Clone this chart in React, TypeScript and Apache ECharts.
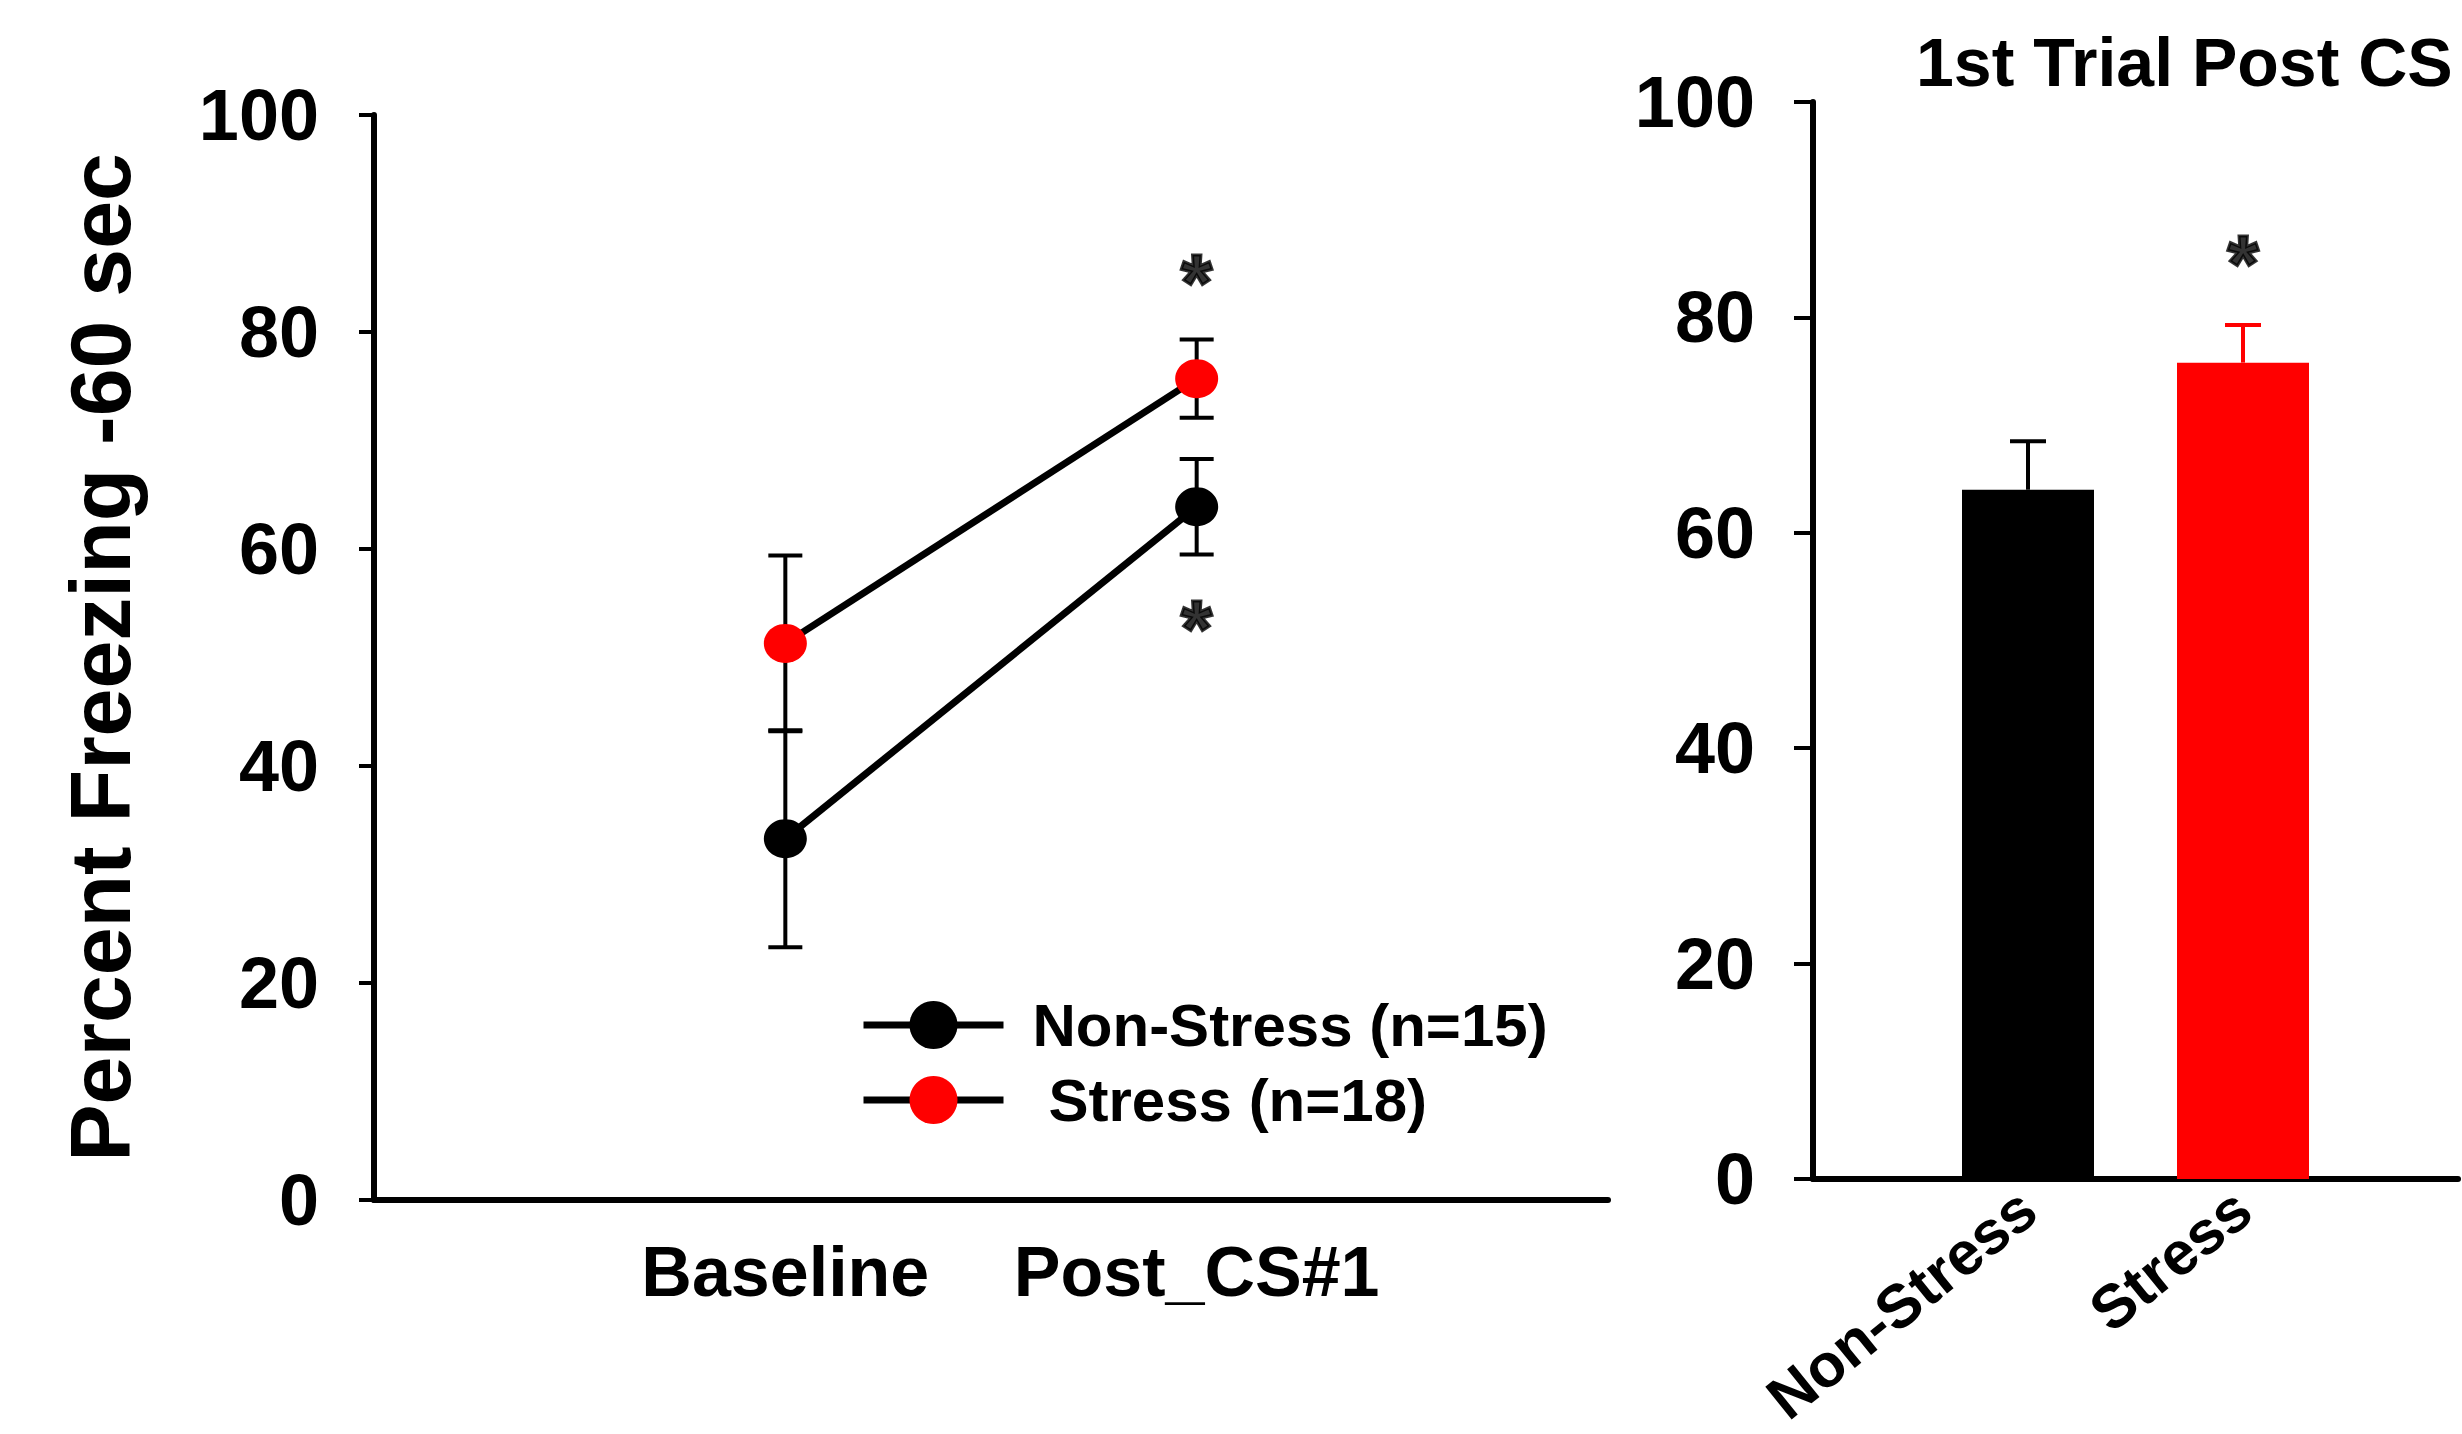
import React, { useEffect, useRef } from "react";
import * as echarts from "echarts";

// ---- data ----
const timepoints = ["Baseline", "Post_CS#1"];
const nonStressName = "Non-Stress (n=15)";
const stressName = "Stress (n=18)";
const nonStressMean = [33.3, 63.9];
const nonStressSem = [10.0, 4.4];
const stressMean = [51.3, 75.7];
const stressSem = [8.1, 3.6];
const leftStarValues = [85.7, 53.8]; // "*" annotations at Post_CS#1

const groups = ["Non-Stress", "Stress"];
const postMean = [64.0, 75.8];
const postSem = [4.5, 3.5];
const groupColors = ["#000000", "#FF0000"];
const rightStarValues = [86.1]; // "*" above Stress bar
const rightTitle = "1st Trial Post CS";
const yAxisTitle = "Percent Freezing -60 sec";

const FONT = "Liberation Sans, Arial, sans-serif";

function errorBar(color: string, halfCap: number, capLow: boolean, lw: number) {
  return (params: any, api: any) => {
    const x = api.value(0);
    const lo = api.value(1);
    const hi = api.value(2);
    const a = api.coord([x, lo]);
    const b = api.coord([x, hi]);
    const style = { stroke: color, lineWidth: lw };
    const children: any[] = [
      { type: "line", shape: { x1: b[0], y1: b[1], x2: a[0], y2: a[1] }, style },
      { type: "line", shape: { x1: b[0] - halfCap, y1: b[1], x2: b[0] + halfCap, y2: b[1] }, style },
    ];
    if (capLow) {
      children.push({ type: "line", shape: { x1: a[0] - halfCap, y1: a[1], x2: a[0] + halfCap, y2: a[1] }, style });
    }
    return { type: "group", children };
  };
}

const starLabel = {
  show: true,
  position: "inside",
  formatter: "*",
  fontSize: 80,
  fontWeight: "bold",
  fontFamily: FONT,
  color: "#000",
  textBorderColor: "#000",
  textBorderWidth: 3,
  offset: [0, 12],
};

export default function App() {
  const ref = useRef<HTMLDivElement>(null);
  useEffect(() => {
    if (!ref.current) return;
    const chart = echarts.init(ref.current, null, { renderer: "svg" });
    const leftCats = ["", ...timepoints, ""];
    const rightCats = ["", ...groups, ""];
    const option: any = {
      animation: false,
      backgroundColor: "#fff",
      title: {
        text: rightTitle,
        left: 1916,
        top: 28,
        padding: 0,
        textStyle: { fontSize: 68, fontWeight: "bold", fontFamily: FONT, color: "#000" },
      },
      legend: {
        orient: "vertical",
        left: 855,
        top: 990,
        itemWidth: 140,
        itemHeight: 60,
        itemGap: 15,
        lineStyle: { width: 7, color: "#000" },
        data: [{ name: nonStressName }, { name: stressName }],
        formatter: (name: string) => (name === stressName ? "{s|" + name + "}" : "{n|" + name + "}"),
        textStyle: {
          fontSize: 60,
          fontWeight: "bold",
          fontFamily: FONT,
          color: "#000",
          lineHeight: 55,
          rich: {
            n: { fontSize: 60, fontWeight: "bold", fontFamily: FONT, color: "#000", padding: [0, 0, 0, 24] },
            s: { fontSize: 60, fontWeight: "bold", fontFamily: FONT, color: "#000", padding: [0, 0, 0, 40] },
          },
        },
      },
      grid: [
        { left: 374, top: 115, width: 1234, height: 1085, outerBoundsMode: "none", containLabel: false },
        { left: 1813, top: 102, width: 645, height: 1077, outerBoundsMode: "none", containLabel: false },
      ],
      xAxis: [
        {
          gridIndex: 0,
          type: "category",
          data: leftCats,
          boundaryGap: false,
          axisLine: { lineStyle: { color: "#000", width: 6 } },
          axisTick: { show: false },
          axisLabel: { interval: 0, margin: 37, fontSize: 70, fontWeight: "bold", fontFamily: FONT, color: "#000" },
          splitLine: { show: false },
        },
        {
          gridIndex: 1,
          type: "category",
          data: rightCats,
          boundaryGap: false,
          axisLine: { lineStyle: { color: "#000", width: 6 } },
          axisTick: { show: false },
          axisLabel: { interval: 0, rotate: 39, margin: 22, fontSize: 61, fontWeight: "bold", fontFamily: FONT, color: "#000" },
          splitLine: { show: false },
        },
      ],
      yAxis: [
        {
          gridIndex: 0,
          type: "value",
          min: 0,
          max: 100,
          interval: 20,
          name: yAxisTitle,
          nameLocation: "middle",
          nameRotate: 90,
          nameGap: 231,
          nameTextStyle: { fontSize: 86, fontWeight: "bold", fontFamily: FONT, color: "#000" },
          axisLine: { show: true, lineStyle: { color: "#000", width: 6 } },
          axisTick: { show: true, length: 15, lineStyle: { color: "#000", width: 4 } },
          axisLabel: { margin: 55, fontSize: 72, fontWeight: "bold", fontFamily: FONT, color: "#000" },
          splitLine: { show: false },
        },
        {
          gridIndex: 1,
          type: "value",
          min: 0,
          max: 100,
          interval: 20,
          axisLine: { show: true, lineStyle: { color: "#000", width: 6 } },
          axisTick: { show: true, length: 19, lineStyle: { color: "#000", width: 4 } },
          axisLabel: { margin: 58, fontSize: 72, fontWeight: "bold", fontFamily: FONT, color: "#000" },
          splitLine: { show: false },
        },
      ],
      series: [
        {
          type: "custom",
          name: "nsErr",
          xAxisIndex: 0,
          yAxisIndex: 0,
          z: 1,
          renderItem: errorBar("#000", 17, true, 4),
          encode: { x: 0, y: [1, 2] },
          data: timepoints.map((t, i) => [t, nonStressMean[i] - nonStressSem[i], nonStressMean[i] + nonStressSem[i]]),
        },
        {
          type: "custom",
          name: "sErr",
          xAxisIndex: 0,
          yAxisIndex: 0,
          z: 1,
          renderItem: errorBar("#000", 17, true, 4),
          encode: { x: 0, y: [1, 2] },
          data: timepoints.map((t, i) => [t, stressMean[i] - stressSem[i], stressMean[i] + stressSem[i]]),
        },
        {
          type: "line",
          name: nonStressName,
          xAxisIndex: 0,
          yAxisIndex: 0,
          z: 3,
          symbol: "circle",
          symbolSize: [43, 39],
          lineStyle: { color: "#000", width: 7 },
          itemStyle: { color: "#000" },
          data: timepoints.map((t, i) => [t, nonStressMean[i]]),
        },
        {
          type: "line",
          name: stressName,
          xAxisIndex: 0,
          yAxisIndex: 0,
          z: 3,
          symbol: "circle",
          symbolSize: [43, 39],
          lineStyle: { color: "#000", width: 7 },
          itemStyle: { color: "#FF0000" },
          data: timepoints.map((t, i) => [t, stressMean[i]]),
        },
        {
          type: "scatter",
          name: "starsLeft",
          xAxisIndex: 0,
          yAxisIndex: 0,
          symbolSize: 1,
          itemStyle: { color: "transparent" },
          label: starLabel,
          data: leftStarValues.map((v) => [timepoints[1], v]),
        },
        {
          type: "bar",
          name: "postBars",
          xAxisIndex: 1,
          yAxisIndex: 1,
          barWidth: 132,
          z: 2,
          data: groups.map((g, i) => ({ value: [g, postMean[i]], itemStyle: { color: groupColors[i] } })),
        },
        {
          type: "custom",
          name: "barErrNS",
          xAxisIndex: 1,
          yAxisIndex: 1,
          z: 1,
          renderItem: errorBar(groupColors[0], 18, false, 4),
          encode: { x: 0, y: [1, 2] },
          data: [[groups[0], postMean[0], postMean[0] + postSem[0]]],
        },
        {
          type: "custom",
          name: "barErrS",
          xAxisIndex: 1,
          yAxisIndex: 1,
          z: 1,
          renderItem: errorBar(groupColors[1], 18, false, 4),
          encode: { x: 0, y: [1, 2] },
          data: [[groups[1], postMean[1], postMean[1] + postSem[1]]],
        },
        {
          type: "scatter",
          name: "starsRight",
          xAxisIndex: 1,
          yAxisIndex: 1,
          symbolSize: 1,
          itemStyle: { color: "transparent" },
          label: starLabel,
          data: rightStarValues.map((v) => [groups[1], v]),
        },
      ],
    };
    chart.setOption(option);
    return () => chart.dispose();
  }, []);
  return (
    <div
      ref={ref}
      style={{ position: "fixed", left: 0, top: 0, width: 2462, height: 1434, background: "#fff" }}
    />
  );
}
